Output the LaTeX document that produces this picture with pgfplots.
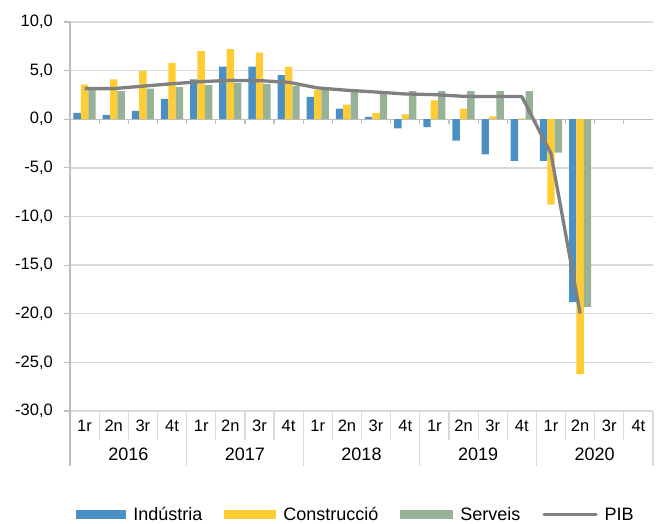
\documentclass[border=0pt]{standalone}
\usepackage{pgfplots}
\pgfplotsset{compat=1.18}
\usepackage{pgfplotstable}
\usepackage{fontspec}
\setmainfont{Liberation Sans}
\definecolor{cInd}{RGB}{74,144,196}
\definecolor{cCon}{RGB}{255,204,51}
\definecolor{cSer}{RGB}{151,178,151}
\definecolor{cPib}{RGB}{128,128,128}
\definecolor{cGrid}{RGB}{217,217,217}
\definecolor{cAx}{RGB}{191,191,191}

\pgfplotstableread{
x ind con ser
0 0.65 3.55 3.05
1 0.45 4.10 2.90
2 0.85 4.95 3.15
3 2.10 5.80 3.30
4 4.10 7.00 3.50
5 5.40 7.20 3.75
6 5.40 6.85 3.65
7 4.55 5.40 3.40
8 2.30 3.00 3.25
9 1.10 1.50 3.05
10 0.25 0.65 2.90
11 -0.95 0.50 2.90
12 -0.80 1.95 2.90
13 -2.20 1.10 2.90
14 -3.60 0.30 2.90
15 -4.28 0.08 2.90
16 -4.28 -8.77 -3.43
17 -18.80 -26.20 -19.30
}\bars

\pgfplotstableread{
x pib
0 3.15
1 3.15
2 3.40
3 3.65
4 3.87
5 4.00
6 3.97
7 3.80
8 3.22
9 2.98
10 2.80
11 2.60
12 2.53
13 2.36
14 2.33
15 2.33
16 -3.53
17 -19.97
}\pib

\begin{document}
\begin{tikzpicture}[font=\fontsize{16.5bp}{19bp}\selectfont]
\useasboundingbox (0,0) rectangle (660bp,524bp);
\begin{axis}[
  at={(70bp,113bp)}, anchor=south west,
  scale only axis, width=583bp, height=389bp,
  xmin=-0.5, xmax=19.5, ymin=-30, ymax=10,
  clip=false,
  axis line style={draw=none},
  ytick={-30,-25,...,10},
  ymajorgrids, grid style={cGrid, line width=1.3bp},
  tick align=outside, major tick length=6bp,
  ytick pos=left,
  ytick style={cAx, line width=1.2bp},
  xtick={0,...,19},
  xtick style={draw=none},
  xticklabels={1r,2n,3r,4t,1r,2n,3r,4t,1r,2n,3r,4t,1r,2n,3r,4t,1r,2n,3r,4t},
  xticklabel style={anchor=base, yshift=-15bp, inner sep=0pt, font=\fontsize{16.5bp}{19bp}\selectfont},
  yticklabel style={inner sep=0pt, xshift=-11bp, font=\fontsize{16.5bp}{19bp}\selectfont},
  /pgf/number format/.cd, fixed, fixed zerofill, precision=1, use comma, assume math mode=true,
  /pgfplots/.cd,
  legend columns=4,
  legend style={draw=none, fill=none, at={(0.4889,-0.2665)}, anchor=center,
    font=\fontsize{18bp}{20bp}\selectfont,
    nodes={inner sep=0pt},
    /tikz/every odd column/.append style={column sep=7bp},
    /tikz/every even column/.append style={column sep=22bp}},
]
% axis decorations
\draw[cAx, line width=1.2bp] (axis cs:-0.5,10) -- (axis cs:-0.5,-35.7);
\draw[cAx, line width=1.2bp] (axis cs:-0.5,0) -- (axis cs:19.5,0);
\pgfplotsinvokeforeach{0.5,1.5,2.5,4.5,5.5,6.5,8.5,9.5,10.5,12.5,13.5,14.5,16.5,17.5,18.5}{
  \draw[cGrid, line width=1.2bp] (axis cs:#1,-30) -- (axis cs:#1,-33.0);
}
\pgfplotsinvokeforeach{3.5,7.5,11.5,15.5,19.5}{
  \draw[cGrid, line width=1.2bp] (axis cs:#1,-30) -- (axis cs:#1,-35.7);
}
\pgfplotsinvokeforeach{0.5,1.5,...,18.5}{
  \draw[cAx, line width=1.2bp] (axis cs:#1,0) -- (axis cs:#1,-0.45);
}
\node[anchor=base, font=\fontsize{18bp}{20bp}\selectfont] at (axis cs:1.5,-35.04) {2016};
\node[anchor=base, font=\fontsize{18bp}{20bp}\selectfont] at (axis cs:5.5,-35.04) {2017};
\node[anchor=base, font=\fontsize{18bp}{20bp}\selectfont] at (axis cs:9.5,-35.04) {2018};
\node[anchor=base, font=\fontsize{18bp}{20bp}\selectfont] at (axis cs:13.5,-35.04) {2019};
\node[anchor=base, font=\fontsize{18bp}{20bp}\selectfont] at (axis cs:17.5,-35.04) {2020};

\addplot[ybar, bar width=7.4bp, bar shift=-7.4bp, fill=cInd, draw=none,
  legend image code/.code={\fill[cInd] (0bp,-4.5bp) rectangle (50bp,4.5bp);}]
  table[x=x, y=ind] {\bars};
\addlegendentry{Indústria}
\addplot[ybar, bar width=7.4bp, bar shift=0bp, fill=cCon, draw=none,
  legend image code/.code={\fill[cCon] (0bp,-4.5bp) rectangle (52bp,4.5bp);}]
  table[x=x, y=con] {\bars};
\addlegendentry{Construcció}
\addplot[ybar, bar width=7.4bp, bar shift=7.4bp, fill=cSer, draw=none,
  legend image code/.code={\fill[cSer] (0bp,-4.5bp) rectangle (53bp,4.5bp);}]
  table[x=x, y=ser] {\bars};
\addlegendentry{Serveis}
\addplot[sharp plot, no marks, cPib, line width=3.3bp, line join=round,
  legend image code/.code={\draw[cPib, line width=3.3bp, line cap=round] (1.5bp,0bp) -- (53.5bp,0bp);}]
  table[x=x, y=pib] {\pib};
\addlegendentry{PIB}
\end{axis}
\end{tikzpicture}
\end{document}
